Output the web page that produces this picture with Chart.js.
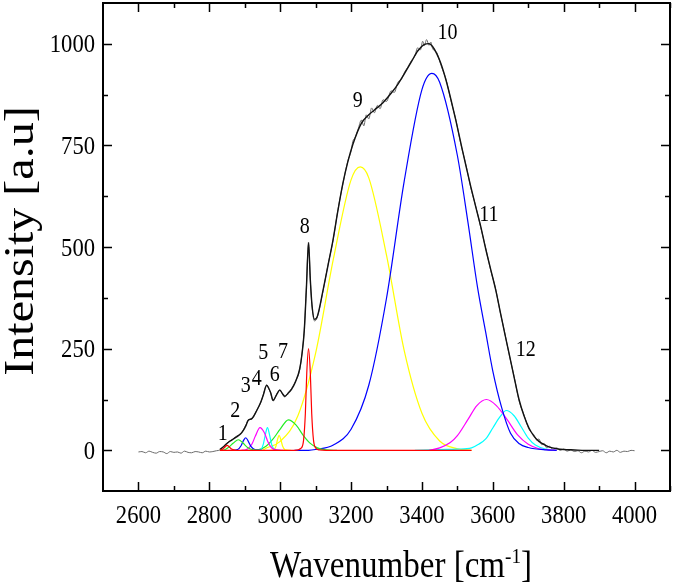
<!DOCTYPE html>
<html>
<head>
<meta charset="utf-8">
<script src="https://cdn.jsdelivr.net/npm/chart.js@4"></script>
<style>
  html, body { margin: 0; padding: 0; background: #fff; }
  canvas { display: block; }
</style>
</head>
<body>
<canvas id="spectrum" width="675" height="588"></canvas>
<script>
// axis ticks
const xTicks = [2600, 2800, 3000, 3200, 3400, 3600, 3800, 4000];
const yTicks = [0, 250, 500, 750, 1000];

// measured spectrum (grey, noisy)
const expX = [2600,2610,2620,2630,2640,2650,2660,2670,2680,2690,2700,2710,2720,2730,2740,2750,2760,2770,2780,2790,2800,2810,2820,
  2830,2840,2854,2865,2877,2888,2896,2904,2910,2920,2934,2945,2952,2962,2968,2973,2980,2990,2999,3006,3013,3022,3032,3043,3055,3062,3068,3074,3080,3085,3090,3097,3105,
  3121,3135,3149,3163,3177,3191,3200,3205,3212,3220,3229,3236,3243,3250,3258,3266,3274,3282,3290,3300,3313,3322,3332,3342,3351,3360,3370,3380,3388,3396,3402,3407,3413,3420,3425,3430,
  3442,3454,3468,3482,3496,3510,3524,3538,3552,3566,3580,3594,3608,3620,3633,3646,3660,3674,3688,3702,3716,3724,3730,3738,3745,3752,3760,3770,3780,3790,
  3800,3810,3820,3830,3840,3850,3860,3870,3880,3890,3900,3910,3920,3930,3940,3950,3960,3970,3980,3990,4000];
const expY = [-4,-3,-6,-2,-5,-7,-3,-4,-8,-3,-5,-4,-7,-2,-5,-6,-3,-4,-6,-2,-4,-3,-1,
  1,10,21,27,35,41,50,64,75,77,99,117,136,161,151,141,121,138,149,139,131,141,152,170,198,242,297,402,512,418,352,318,328,
  392,457,515,592,655,712,735,760,770,790,812,798,825,815,842,830,848,840,862,858,884,880,905,912,930,942,958,970,990,985,1006,995,1010,996,1004,988,
  978,946,912,860,812,752,703,645,600,548,497,443,397,343,292,236,182,122,87,52,38,25,28,14,17,6,10,2,6,0,
  3,-2,1,-3,-1,-6,-2,-4,0,-5,-3,-1,-6,-2,-4,0,-5,-2,-3,0,-1];

// cumulative fit (black)
const fitX = [2830,2840,2854,2865,2877,2888,2896,2904,2910,2920,2934,2945,2952,2962,2968,2973,2980,2990,2999,3006,3013,3022,3032,3043,3055,3062,3068,3074,3080,3085,3090,3097,3105,
  3121,3135,3149,3163,3177,3191,3205,3229,3250,3266,3290,3313,3332,3351,3370,3388,3407,3420,3430,3442,3454,3468,3482,3496,3510,3524,3538,3552,3566,3580,3594,3608,3620,3633,3646,
  3660,3674,3688,3702,3716,3730,3745,3760,3780,3800,3830,3860,3900];
const fitY = [2,9,20,26,33,40,49,62,74,78,98,118,135,160,152,142,123,137,148,140,133,140,150,168,200,240,295,400,510,420,355,322,330,
  394,455,517,590,657,710,752,804,825,837,855,878,900,927,955,982,998,1000,993,975,950,910,862,810,755,700,648,598,550,495,445,395,345,290,238,
  180,125,85,55,35,22,14,8,4,2,1,0,0];

// fitted peaks 1..12
const p1X = [2830,2838,2845,2850,2856,2863,2875];
const p1Y = [0,3,9,12,9,3,0];
const p2X = [2830,2845,2855,2868,2882,2895,2908,2925,2945];
const p2Y = [0,2,8,18,26,18,7,1,0];
const p3X = [2860,2880,2890,2897,2903,2910,2918,2930,2950];
const p3Y = [0,2,12,25,31,22,9,1,0];
const p4X = [2890,2905,2920,2930,2943,2955,2965,2975,2990,3010];
const p4Y = [0,2,15,35,56,44,22,7,1,0];
const p5X = [2930,2945,2952,2958,2964,2970,2976,2985,3000];
const p5Y = [0,2,14,38,56,38,14,2,0];
const p6X = [2970,2982,2988,2993,2997,3002,3007,3014,3030];
const p6Y = [0,1,10,28,37,26,10,1,0];
const p7X = [2900,2940,2960,2980,3000,3023,3045,3065,3085,3105,3130,3160];
const p7Y = [0,2,10,28,52,75,62,37,17,6,1,0];
const p8X = [2830,3040,3060,3066,3071,3075,3080,3085,3089,3094,3100,3110,3130,3540];
const p8Y = [0,0,6,25,90,190,250,190,90,25,6,1,0,0];
const p9X = [2950,2960,3000,3050,3100,3150,3200,3226,3250,3300,3350,3400,3450,3500,3540];
const p9Y = [0,5,22,85,239,470,665,697,670,480,245,91,23,4,0];
const p10X = [3040,3080,3100,3150,3200,3250,3300,3350,3400,3428,3450,3500,3530,3557,3580,3600,3625,3650,3675,3700,3750,3780];
const p10Y = [0,0,2,13,52,160,374,662,887,927,905,725,560,400,290,195,105,42,16,7,1,0];
const p11X = [3420,3450,3480,3500,3530,3555,3582,3610,3640,3670,3700,3730,3760,3780];
const p11Y = [0,6,19,36,76,110,125,110,76,38,15,4,1,0];
const p12X = [3380,3450,3500,3540,3560,3580,3600,3620,3638,3660,3680,3700,3720,3750,3780];
const p12Y = [0,2,3,6,15,28,55,82,98,85,58,30,13,3,0];

// peak numbers written on the plot
const peakLabels = ['1','2','3','4','5','6','7','8','9','10','11','12'];
const peakLabelX = [2838,2873,2903,2934,2952,2985,3008,3069,3219,3472,3589,3693];
const peakLabelY = [45,100,162,180,242,189,245,554,862,1030,583,250];

const SERIF = "'Liberation Serif', 'Times New Roman', serif";
const SX = 0.87; // text in the reference is a bit squeezed horizontally

function pts(xs, ys) {
    return xs.map((x, i) => ({ x: x, y: ys[i] }));
}

function curve(xs, ys, color, width, order) {
    return {
        data: pts(xs, ys),
        borderColor: color,
        borderWidth: width,
        pointRadius: 0,
        fill: false,
        cubicInterpolationMode: 'monotone',
        order: order
    };
}

// squeezed text helper
function text(ctx, str, x, y, size, align) {
    ctx.save();
    ctx.font = size + 'px ' + SERIF;
    ctx.textAlign = align || 'center';
    ctx.textBaseline = 'alphabetic';
    ctx.translate(x, y);
    ctx.scale(SX, 1);
    ctx.fillText(str, 0, 0);
    ctx.restore();
}

const framePlugin = {
    id: 'frame',
    afterDraw(chart) {
        const ctx = chart.ctx;
        const a = chart.chartArea;
        const xs = chart.scales.x;
        const ys = chart.scales.y;
        ctx.save();
        ctx.fillStyle = '#000';
        ctx.strokeStyle = '#000';

        // frame
        ctx.lineWidth = 2;
        ctx.strokeRect(a.left, a.top, a.right - a.left, a.bottom - a.top);

        // inward ticks on all four sides
        ctx.lineWidth = 1.5;
        ctx.beginPath();
        const xStep = xTicks[1] - xTicks[0];
        for (let v = xTicks[0] - xStep / 2; v <= xs.max; v += xStep / 2) {
            if (v <= xs.min) continue;
            const major = xTicks.includes(v);
            const len = major ? 9 : 5;
            const px = Math.round(xs.getPixelForValue(v)) + 0.5;
            ctx.moveTo(px, a.bottom); ctx.lineTo(px, a.bottom - len);
            ctx.moveTo(px, a.top); ctx.lineTo(px, a.top + len);
        }
        const yStep = yTicks[1] - yTicks[0];
        for (let v = yTicks[0] - yStep / 2; v <= ys.max; v += yStep / 2) {
            if (v <= ys.min) continue;
            const major = yTicks.includes(v);
            const len = major ? 9 : 5;
            const py = Math.round(ys.getPixelForValue(v)) + 0.5;
            ctx.moveTo(a.left, py); ctx.lineTo(a.left + len, py);
            ctx.moveTo(a.right, py); ctx.lineTo(a.right - len, py);
        }
        ctx.stroke();

        // tick labels
        xTicks.forEach(v => text(ctx, String(v), xs.getPixelForValue(v), a.bottom + 32, 26, 'center'));
        yTicks.forEach(v => text(ctx, String(v), a.left - 8, ys.getPixelForValue(v) + 8.5, 26, 'right'));

        // peak numbers
        peakLabels.forEach((t, i) => {
            text(ctx, t, xs.getPixelForValue(peakLabelX[i]), ys.getPixelForValue(peakLabelY[i]) + 7.5, 23, 'center');
        });

        // x title with superscript
        ctx.font = '38px ' + SERIF;
        const mainW = ctx.measureText('Wavenumber [cm').width;
        ctx.font = '22px ' + SERIF;
        const supW = ctx.measureText('-1').width;
        ctx.font = '38px ' + SERIF;
        const endW = ctx.measureText(']').width;
        const total = (mainW + supW + endW) * SX;
        let tx = 401 - total / 2;
        const ty = 577;
        text(ctx, 'Wavenumber [cm', tx, ty, 38, 'left');
        tx += mainW * SX;
        text(ctx, '-1', tx, ty - 14, 22, 'left');
        tx += supW * SX;
        text(ctx, ']', tx, ty, 38, 'left');

        // y title, rotated
        ctx.save();
        ctx.font = '48px ' + SERIF;
        ctx.textAlign = 'center';
        ctx.textBaseline = 'alphabetic';
        ctx.translate(33, 241);
        ctx.rotate(-Math.PI / 2);
        ctx.scale(1, SX);
        ctx.fillText('Intensity [a.u]', 0, 0);
        ctx.restore();

        ctx.restore();
    }
};

new Chart(document.getElementById('spectrum'), {
    type: 'line',
    data: {
        datasets: [
            curve(expX, expY, '#6a6a6a', 1, 7),
            curve(fitX, fitY, '#111111', 1.4, 6),
            curve(p1X, p1Y, '#ff0000', 1.2, 1),
            curve(p2X, p2Y, '#22ee22', 1.2, 2),
            curve(p3X, p3Y, '#0000ff', 1.2, 2),
            curve(p4X, p4Y, '#ff00ff', 1.2, 2),
            curve(p5X, p5Y, '#00ffff', 1.2, 2),
            curve(p6X, p6Y, '#ffff00', 1.2, 2),
            curve(p7X, p7Y, '#22ee22', 1.2, 2),
            curve(p9X, p9Y, '#ffff00', 1.2, 3),
            curve(p10X, p10Y, '#0000ff', 1.2, 2),
            curve(p11X, p11Y, '#ff00ff', 1.2, 2),
            curve(p12X, p12Y, '#00ffff', 1.2, 2),
            curve(p8X, p8Y, '#ff0000', 1.2, 0)
        ]
    },
    options: {
        responsive: false,
        animation: false,
        layout: { padding: { top: 3, right: 5, left: 0, bottom: 0 } },
        plugins: {
            legend: { display: false },
            tooltip: { enabled: false }
        },
        scales: {
            x: {
                type: 'linear',
                min: 2500,
                max: 4100,
                grid: { display: false },
                border: { display: false },
                ticks: { display: false },
                afterFit(scale) { scale.height = 97; }
            },
            y: {
                type: 'linear',
                min: -100,
                max: 1100,
                grid: { display: false },
                border: { display: false },
                ticks: { display: false },
                afterFit(scale) { scale.width = 103; }
            }
        }
    },
    plugins: [framePlugin]
});
</script>
</body>
</html>
